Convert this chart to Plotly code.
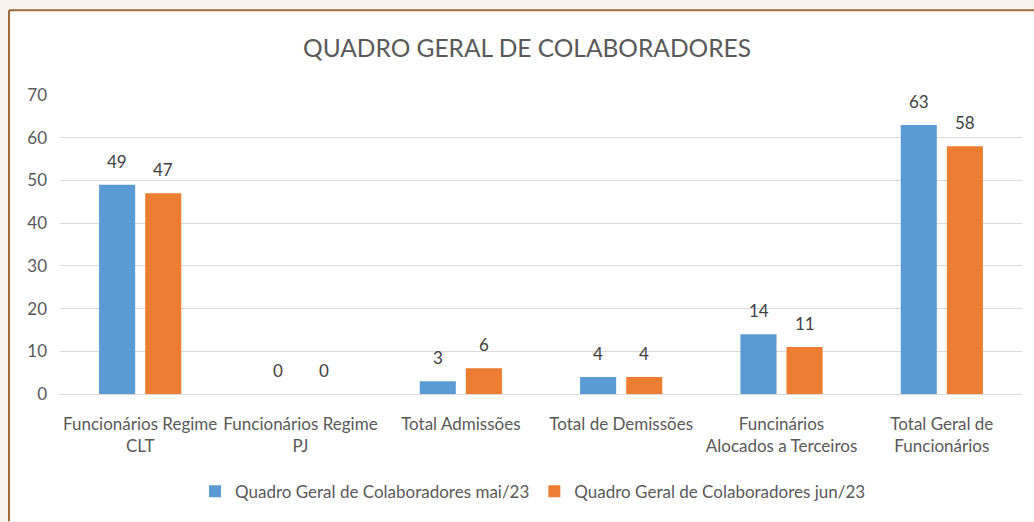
import plotly.graph_objects as go

categories = ["Funcionários Regime<br>CLT", "Funcionários Regime<br>PJ", "Total Admissões",
              "Total de Demissões", "Funcinários<br>Alocados a Terceiros", "Total Geral de<br>Funcionários"]
series_names = ["Quadro Geral de Colaboradores mai/23", "Quadro Geral de Colaboradores jun/23"]
mai = [49, 0, 3, 4, 14, 63]
jun = [47, 0, 6, 4, 11, 58]
colors = ["#5b9bd5", "#ed7d31"]
y_ticks = [0, 10, 20, 30, 40, 50, 60, 70]

FONT = "Lato, Open Sans, sans-serif"
W, H = 1034, 522
L, R, T, B = 60, 12, 95, 124
PW, PH = W - L - R, H - T - B

fig = go.Figure()
for name, vals, col in zip(series_names, [mai, jun], colors):
    fig.add_trace(go.Bar(x=categories, y=vals, name=name, marker_color=col,
                         marker_line_width=0))

annotations = []
for vals, shift in zip([mai, jun], [-23, 23]):
    for c, v in zip(categories, vals):
        annotations.append(dict(x=c, y=v, xref="x", yref="y", text=str(v), showarrow=False,
                                xshift=shift, yshift=11, yanchor="bottom",
                                font=dict(size=17, color="#404040", family=FONT)))

bx = (9 - L) / PW
by = (H - B - 9) / PH
rx = (W - L) / PW + 0.01
bottom = -(B + 5) / PH
shapes = [
    dict(type="rect", xref="paper", yref="paper", x0=bx, x1=rx, y0=bottom, y1=by,
         fillcolor="white", line_width=0, layer="below"),
    dict(type="line", xref="paper", yref="paper", x0=bx, x1=bx, y0=bottom, y1=by,
         line=dict(color="#a06a3a", width=2), layer="above"),
    dict(type="line", xref="paper", yref="paper", x0=bx, x1=rx, y0=by, y1=by,
         line=dict(color="#a06a3a", width=2), layer="above"),
]

fig.update_layout(
    width=W, height=H,
    margin=dict(l=L, r=R, t=T, b=B),
    paper_bgcolor="#f8f3ef", plot_bgcolor="rgba(0,0,0,0)",
    barmode="group", bargap=0.425, bargroupgap=0.217,
    title=dict(text="QUADRO GERAL DE COLABORADORES", x=527 / W,
               xanchor="center", y=1 - 48 / H, yanchor="middle", yref="container",
               font=dict(size=24.5, color="#595959", family=FONT)),
    font=dict(family=FONT, color="#595959", size=17),
    xaxis=dict(tickfont=dict(size=17, color="#595959"), showgrid=False, showline=False,
               ticks="", ticklabelstandoff=18),
    yaxis=dict(range=[0, 70], tickvals=y_ticks, gridcolor="#d9d9d9", gridwidth=1,
               zeroline=True, zerolinecolor="#d9d9d9", zerolinewidth=1,
               tickfont=dict(size=17, color="#595959"), showline=False, ticks="",
               ticklabelstandoff=12),
    legend=dict(orientation="h", x=(533 - L) / PW, xanchor="center",
                y=-(497 - (H - B)) / PH, yanchor="middle",
                font=dict(size=17, color="#595959"), itemwidth=30, bgcolor="rgba(0,0,0,0)"),
    annotations=annotations,
    shapes=shapes,
)

fig.write_html("out.html", config={"displayModeBar": False},
               post_script="document.body.style.margin='0';document.body.style.overflow='hidden';")
